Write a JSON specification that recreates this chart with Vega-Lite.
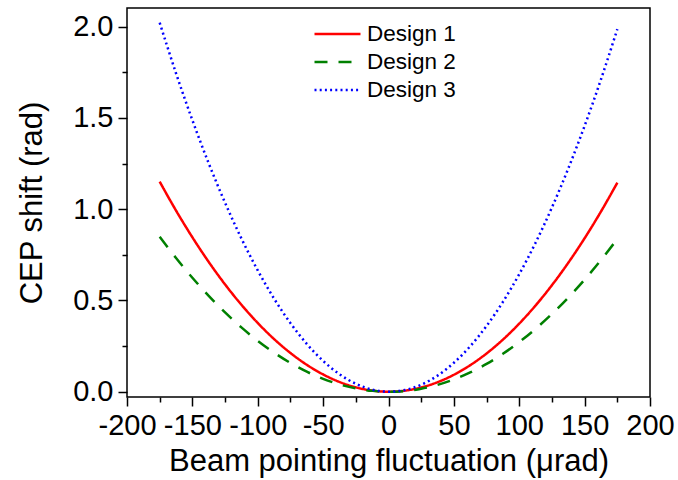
{
  "$schema": "https://vega.github.io/schema/vega-lite/v6.json",
  "autosize": {"type": "none"},
  "width": 523,
  "height": 389,
  "padding": {"left": 127, "top": 8, "right": 28, "bottom": 83},
  "background": "white",
  "config": {
    "view": {"stroke": "black", "strokeWidth": 1.5},
    "font": "Liberation Sans",
    "axis": {"grid": false, "domain": false, "tickColor": "black", "tickWidth": 1.5, "labelColor": "black", "titleColor": "black", "labelFont": "Liberation Sans", "titleFont": "Liberation Sans", "labelFontSize": 29, "titleFontSize": 31, "titleFontWeight": "normal"}
  },
  "datasets": {
    "curves": [
      {"x": -175, "y": 1.151, "series": "Design 1"},
      {"x": -162.5, "y": 0.9927, "series": "Design 1"},
      {"x": -150, "y": 0.8461, "series": "Design 1"},
      {"x": -137.5, "y": 0.7111, "series": "Design 1"},
      {"x": -125, "y": 0.5879, "series": "Design 1"},
      {"x": -112.5, "y": 0.4764, "series": "Design 1"},
      {"x": -100, "y": 0.3766, "series": "Design 1"},
      {"x": -87.5, "y": 0.2885, "series": "Design 1"},
      {"x": -75, "y": 0.2122, "series": "Design 1"},
      {"x": -62.5, "y": 0.1475, "series": "Design 1"},
      {"x": -50, "y": 0.0946, "series": "Design 1"},
      {"x": -37.5, "y": 0.0534, "series": "Design 1"},
      {"x": -25, "y": 0.0239, "series": "Design 1"},
      {"x": -12.5, "y": 0.0061, "series": "Design 1"},
      {"x": 0, "y": 0, "series": "Design 1"},
      {"x": 12.5, "y": 0.0057, "series": "Design 1"},
      {"x": 25, "y": 0.023, "series": "Design 1"},
      {"x": 37.5, "y": 0.0521, "series": "Design 1"},
      {"x": 50, "y": 0.0929, "series": "Design 1"},
      {"x": 62.5, "y": 0.1454, "series": "Design 1"},
      {"x": 75, "y": 0.2096, "series": "Design 1"},
      {"x": 87.5, "y": 0.2855, "series": "Design 1"},
      {"x": 100, "y": 0.3732, "series": "Design 1"},
      {"x": 112.5, "y": 0.4726, "series": "Design 1"},
      {"x": 125, "y": 0.5837, "series": "Design 1"},
      {"x": 137.5, "y": 0.7065, "series": "Design 1"},
      {"x": 150, "y": 0.841, "series": "Design 1"},
      {"x": 162.5, "y": 0.9872, "series": "Design 1"},
      {"x": 175, "y": 1.145, "series": "Design 1"},
      {"x": -175, "y": 0.849, "series": "Design 2"},
      {"x": -162.5, "y": 0.7325, "series": "Design 2"},
      {"x": -150, "y": 0.6245, "series": "Design 2"},
      {"x": -137.5, "y": 0.5252, "series": "Design 2"},
      {"x": -125, "y": 0.4345, "series": "Design 2"},
      {"x": -112.5, "y": 0.3522, "series": "Design 2"},
      {"x": -100, "y": 0.2787, "series": "Design 2"},
      {"x": -87.5, "y": 0.2138, "series": "Design 2"},
      {"x": -75, "y": 0.1575, "series": "Design 2"},
      {"x": -62.5, "y": 0.1096, "series": "Design 2"},
      {"x": -50, "y": 0.0705, "series": "Design 2"},
      {"x": -37.5, "y": 0.04, "series": "Design 2"},
      {"x": -25, "y": 0.0181, "series": "Design 2"},
      {"x": -12.5, "y": 0.0047, "series": "Design 2"},
      {"x": 0, "y": 0, "series": "Design 2"},
      {"x": 12.5, "y": 0.0039, "series": "Design 2"},
      {"x": 25, "y": 0.0164, "series": "Design 2"},
      {"x": 37.5, "y": 0.0374, "series": "Design 2"},
      {"x": 50, "y": 0.0671, "series": "Design 2"},
      {"x": 62.5, "y": 0.1054, "series": "Design 2"},
      {"x": 75, "y": 0.1524, "series": "Design 2"},
      {"x": 87.5, "y": 0.2078, "series": "Design 2"},
      {"x": 100, "y": 0.2719, "series": "Design 2"},
      {"x": 112.5, "y": 0.3446, "series": "Design 2"},
      {"x": 125, "y": 0.426, "series": "Design 2"},
      {"x": 137.5, "y": 0.5158, "series": "Design 2"},
      {"x": 150, "y": 0.6143, "series": "Design 2"},
      {"x": 162.5, "y": 0.7215, "series": "Design 2"},
      {"x": 175, "y": 0.837, "series": "Design 2"},
      {"x": -175, "y": 2.0221, "series": "Design 3"},
      {"x": -162.5, "y": 1.7447, "series": "Design 3"},
      {"x": -150, "y": 1.4879, "series": "Design 3"},
      {"x": -137.5, "y": 1.2514, "series": "Design 3"},
      {"x": -125, "y": 1.0354, "series": "Design 3"},
      {"x": -112.5, "y": 0.8398, "series": "Design 3"},
      {"x": -100, "y": 0.6647, "series": "Design 3"},
      {"x": -87.5, "y": 0.51, "series": "Design 3"},
      {"x": -75, "y": 0.3758, "series": "Design 3"},
      {"x": -62.5, "y": 0.262, "series": "Design 3"},
      {"x": -50, "y": 0.1688, "series": "Design 3"},
      {"x": -37.5, "y": 0.0959, "series": "Design 3"},
      {"x": -25, "y": 0.0435, "series": "Design 3"},
      {"x": -12.5, "y": 0.0115, "series": "Design 3"},
      {"x": 0, "y": 0, "series": "Design 3"},
      {"x": 12.5, "y": 0.0089, "series": "Design 3"},
      {"x": 25, "y": 0.0383, "series": "Design 3"},
      {"x": 37.5, "y": 0.0881, "series": "Design 3"},
      {"x": 50, "y": 0.1584, "series": "Design 3"},
      {"x": 62.5, "y": 0.2492, "series": "Design 3"},
      {"x": 75, "y": 0.3604, "series": "Design 3"},
      {"x": 87.5, "y": 0.492, "series": "Design 3"},
      {"x": 100, "y": 0.6441, "series": "Design 3"},
      {"x": 112.5, "y": 0.8166, "series": "Design 3"},
      {"x": 125, "y": 1.0096, "series": "Design 3"},
      {"x": 137.5, "y": 1.223, "series": "Design 3"},
      {"x": 150, "y": 1.4569, "series": "Design 3"},
      {"x": 162.5, "y": 1.7113, "series": "Design 3"},
      {"x": 175, "y": 1.9861, "series": "Design 3"}
    ]
  },
  "data": {"name": "curves"},
  "resolve": {"axis": {"x": "independent", "y": "independent"}},
  "layer": [
    {
      "mark": {"type": "line", "strokeWidth": 2.5, "interpolate": "monotone", "clip": true},
      "encoding": {
        "x": {"field": "x", "type": "quantitative", "scale": {"domain": [-200, 200], "nice": false, "zero": false},
              "axis": {"orient": "bottom", "values": [-200, -150, -100, -50, 0, 50, 100, 150, 200], "labelExpr": "replace(datum.label, '−', '-')", "tickSize": 9, "labelPadding": 5, "labelOverlap": false, "labelFlush": false, "title": "Beam pointing fluctuation (μrad)", "titlePadding": 6}},
        "y": {"field": "y", "type": "quantitative", "scale": {"domain": [-0.029, 2.1025], "nice": false, "zero": false},
              "axis": {"orient": "left", "values": [0, 0.5, 1, 1.5, 2], "format": ".1f", "tickSize": 9, "labelPadding": 5, "labelOverlap": false, "labelFlush": false, "title": "CEP shift (rad)", "titlePadding": 24}},
        "color": {"field": "series", "type": "nominal",
                  "scale": {"domain": ["Design 1", "Design 2", "Design 3"], "range": ["#FF0000", "#008000", "#0000FF"]},
                  "legend": {"orient": "none", "legendX": 186, "legendY": 12, "title": null, "symbolType": "stroke", "symbolSize": 2116, "symbolStrokeWidth": 2.5, "labelFontSize": 22.5, "labelFont": "Liberation Sans", "labelColor": "black", "clipHeight": 28, "rowPadding": 0, "labelOffset": 5, "padding": 0}},
        "strokeDash": {"field": "series", "type": "nominal",
                       "scale": {"domain": ["Design 1", "Design 2", "Design 3"], "range": [[1, 0], [13, 11], [2, 3.2]]}}
      }
    },
    {
      "mark": {"type": "point", "opacity": 0},
      "encoding": {
        "x": {"field": "x", "type": "quantitative", "axis": {"orient": "bottom", "values": [-175, -125, -75, -25, 25, 75, 125, 175], "tickSize": 5, "labels": false, "title": null}},
        "y": {"field": "y", "type": "quantitative", "axis": {"orient": "left", "values": [0.25, 0.75, 1.25, 1.75], "tickSize": 5, "labels": false, "title": null}}
      }
    }
  ]
}
